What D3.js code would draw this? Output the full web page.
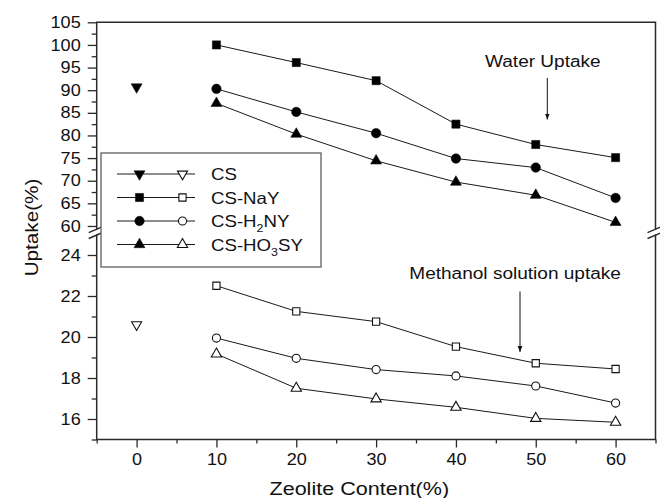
<!DOCTYPE html>
<html>
<head>
<meta charset="utf-8">
<script src="https://cdn.jsdelivr.net/npm/d3@7"></script>
<style>
  html, body { margin: 0; padding: 0; background: #fff; }
  svg { display: block; }
  text { font-family: "Liberation Sans", Arial, sans-serif; fill: #111; }
</style>
</head>
<body>
<svg id="chart" width="660" height="498"></svg>
<script>
// Zeolite content (%) for the composite membranes, and the plain CS membrane at 0 %
const zeoliteContent = [10, 20, 30, 40, 50, 60];
const csContent = [0];

// Water uptake (%)
const waterCS = [90.7];
const waterNaY = [100, 96.1, 92.1, 82.5, 78, 75.1];
const waterH2NY = [90.3, 85.2, 80.5, 74.9, 72.9, 66.2];
const waterHO3SY = [87.1, 80.3, 74.4, 69.7, 66.8, 60.8];

// Methanol solution uptake (%)
const methanolCS = [20.6];
const methanolNaY = [22.5, 21.25, 20.75, 19.53, 18.72, 18.44];
const methanolH2NY = [19.95, 18.96, 18.41, 18.1, 17.61, 16.78];
const methanolHO3SY = [19.17, 17.5, 16.98, 16.57, 16.03, 15.84];

// Axis ticks
const xMajorTicks = [0, 10, 20, 30, 40, 50, 60];
const xMinorTicks = [-5, 5, 15, 25, 35, 45, 55, 65];
const yUpperMajor = [60, 65, 70, 75, 80, 85, 90, 95, 100, 105];
const yUpperMinor = [62.5, 67.5, 72.5, 77.5, 82.5, 87.5, 92.5, 97.5, 102.5];
const yLowerMajor = [16, 18, 20, 22, 24];
const yLowerMinor = [15, 17, 19, 21, 23];

const seriesNames = ["CS", "CS-NaY", "CS-H2NY", "CS-HO3SY"];

const svg = d3.select("#chart");
const SX = 1.13;   // horizontal text stretch

const left = 96.7, right = 655.5;
const x = d3.scaleLinear().domain([-5, 65]).range([left, right]);
const yUp = d3.scaleLinear().domain([59.2, 105]).range([229.6, 22.3]);
const yLo = d3.scaleLinear().domain([15, 25]).range([439.5, 234.5]);

const frameColor = "#2a2a2a";
const lineColor = "#1a1a1a";

// stretch axis labels horizontally around their anchor
function stretchTicks(g, sx) {
  g.selectAll("text").each(function () {
    const t = d3.select(this);
    const xx = +t.attr("x") || 0;
    t.attr("x", xx / sx).attr("transform", `scale(${sx},1)`);
  });
}

function styleAxis(g) {
  g.select(".domain").remove();
  g.selectAll("line").attr("stroke", frameColor).attr("stroke-width", 1.3);
  g.selectAll("text").attr("font-size", 16).attr("fill", "#111");
}

// ---- Y axes: upper (water) and lower (methanol) segments
const gyU = svg.append("g").attr("transform", `translate(${left},0)`)
  .call(d3.axisLeft(yUp).tickValues(yUpperMajor).tickSize(9).tickPadding(7).tickFormat(d3.format("d")));
styleAxis(gyU); stretchTicks(gyU, SX);
const gyUm = svg.append("g").attr("transform", `translate(${left},0)`)
  .call(d3.axisLeft(yUp).tickValues(yUpperMinor).tickSize(5).tickFormat(""));
styleAxis(gyUm);

const gyL = svg.append("g").attr("transform", `translate(${left},0)`)
  .call(d3.axisLeft(yLo).tickValues(yLowerMajor).tickSize(9).tickPadding(7).tickFormat(d3.format("d")));
styleAxis(gyL); stretchTicks(gyL, SX);
const gyLm = svg.append("g").attr("transform", `translate(${left},0)`)
  .call(d3.axisLeft(yLo).tickValues(yLowerMinor).tickSize(5).tickFormat(""));
styleAxis(gyLm);

// ---- X axis
const bottom = yLo(15);
const gx = svg.append("g").attr("transform", `translate(0,${bottom})`)
  .call(d3.axisBottom(x).tickValues(xMajorTicks).tickSize(8).tickPadding(6).tickFormat(d3.format("d")));
styleAxis(gx); stretchTicks(gx, SX);
const gxm = svg.append("g").attr("transform", `translate(0,${bottom})`)
  .call(d3.axisBottom(x).tickValues(xMinorTicks).tickSize(4).tickFormat(""));
styleAxis(gxm);

// ---- Frame: upper box (top, left, right) and lower box (bottom, left, right)
const frame = svg.append("g").attr("fill", "none").attr("stroke", frameColor).attr("stroke-width", 1.5);
const yTop = yUp(105), yUpBot = yUp(59.2), yLoTop = yLo(25);
frame.append("path").attr("d", `M${left},${yUpBot}V${yTop}H${right}V${yUpBot}`);
frame.append("path").attr("d", `M${left},${yLoTop}V${bottom}H${right}V${yLoTop}`);

// axis break marks
const brk = svg.append("g").attr("stroke", frameColor).attr("stroke-width", 1.4);
[left, right].forEach(cx => {
  brk.append("line").attr("x1", cx - 8).attr("y1", yUpBot + 3).attr("x2", cx + 6).attr("y2", yUpBot - 3);
  brk.append("line").attr("x1", cx - 8).attr("y1", yLoTop + 4).attr("x2", cx + 6).attr("y2", yLoTop - 2);
});

// ---- Markers
const symbolTypes = { down: d3.symbolTriangle, square: d3.symbolSquare, circle: d3.symbolCircle, up: d3.symbolTriangle };
const filledSizes = { down: 52, square: 66, circle: 70, up: 52 };
const hollowSizes = { down: 44, square: 52, circle: 52, up: 46 };

function drawMarker(g, kind, filled, px, py) {
  const size = (filled ? filledSizes : hollowSizes)[kind];
  const rot = kind === "down" ? " rotate(180)" : "";
  g.append("path")
    .attr("d", d3.symbol().type(symbolTypes[kind]).size(size)())
    .attr("transform", `translate(${px},${py})${rot}`)
    .attr("fill", filled ? "#000" : "#fff")
    .attr("stroke", "#111")
    .attr("stroke-width", filled ? 0.6 : 1.1);
}

const lineGen = (ys) => d3.line().x(d => x(d[0])).y(d => ys(d[1]));

const series = [
  { kind: "down", water: [csContent, waterCS], meth: [csContent, methanolCS] },
  { kind: "square", water: [zeoliteContent, waterNaY], meth: [zeoliteContent, methanolNaY] },
  { kind: "circle", water: [zeoliteContent, waterH2NY], meth: [zeoliteContent, methanolH2NY] },
  { kind: "up", water: [zeoliteContent, waterHO3SY], meth: [zeoliteContent, methanolHO3SY] }
];

const plot = svg.append("g");
series.forEach(s => {
  const wPts = s.water[0].map((c, i) => [c, s.water[1][i]]);
  const mPts = s.meth[0].map((c, i) => [c, s.meth[1][i]]);
  if (wPts.length > 1) {
    plot.append("path").attr("d", lineGen(yUp)(wPts)).attr("fill", "none")
      .attr("stroke", lineColor).attr("stroke-width", 1);
  }
  if (mPts.length > 1) {
    plot.append("path").attr("d", lineGen(yLo)(mPts)).attr("fill", "none")
      .attr("stroke", lineColor).attr("stroke-width", 1);
  }
  wPts.forEach(p => drawMarker(plot, s.kind, true, x(p[0]), yUp(p[1])));
  mPts.forEach(p => drawMarker(plot, s.kind, false, x(p[0]), yLo(p[1])));
});

// ---- Legend
const leg = svg.append("g");
leg.append("rect").attr("x", 101).attr("y", 153).attr("width", 220).attr("height", 114)
  .attr("fill", "#fff").attr("stroke", "#6a6a6a").attr("stroke-width", 1.4);
const rowY = [174, 197.5, 221, 244.5];

// writes a label, turning a digit that follows "H" or "O" into a subscript
function writeLabel(t, name) {
  const parts = name.match(/^(.*?[HO])(\d)(.*)$/);
  if (!parts) { t.text(name); return; }
  t.append("tspan").text(parts[1]);
  t.append("tspan").text(parts[2]).attr("font-size", 11).attr("dy", 5);
  t.append("tspan").text(parts[3]).attr("dy", -5);
}

seriesNames.forEach((name, i) => {
  const yy = rowY[i];
  leg.append("line").attr("x1", 117).attr("x2", 195).attr("y1", yy).attr("y2", yy)
    .attr("stroke", lineColor).attr("stroke-width", 1);
  drawMarker(leg, series[i].kind, true, 139.5, yy);
  drawMarker(leg, series[i].kind, false, 182.5, yy);
  const t = leg.append("text")
    .attr("transform", `translate(211,${yy + 6}) scale(${SX},1)`)
    .attr("font-size", 16.5);
  writeLabel(t, name);
});

// ---- Annotations with arrows
const defs = svg.append("defs");
defs.append("marker").attr("id", "arrow").attr("viewBox", "0 0 10 10")
  .attr("refX", 10).attr("refY", 5).attr("markerWidth", 6).attr("markerHeight", 6)
  .attr("markerUnits", "userSpaceOnUse").attr("orient", "auto")
  .append("path").attr("d", "M0,1 L10,5 L0,9 Z").attr("fill", "#111");

const SA = 1.19;
svg.append("text").attr("transform", `translate(485,66.7) scale(${SA},1)`)
  .attr("font-size", 16).text("Water Uptake");
svg.append("line").attr("x1", 547.3).attr("x2", 547.3).attr("y1", 78).attr("y2", 119.5)
  .attr("stroke", "#111").attr("stroke-width", 1).attr("marker-end", "url(#arrow)");

svg.append("text").attr("transform", `translate(409.3,279) scale(${SA},1)`)
  .attr("font-size", 16).text("Methanol solution uptake");
svg.append("line").attr("x1", 520).attr("x2", 520).attr("y1", 291.5).attr("y2", 352)
  .attr("stroke", "#111").attr("stroke-width", 1).attr("marker-end", "url(#arrow)");

// ---- Axis titles
svg.append("text").attr("transform", `translate(359.3,495) scale(1.165,1)`)
  .attr("text-anchor", "middle").attr("font-size", 18.5).text("Zeolite Content(%)");
svg.append("text").attr("transform", `translate(38,227.5) rotate(-90) scale(1.15,1)`)
  .attr("text-anchor", "middle").attr("font-size", 18).text("Uptake(%)");
</script>
</body>
</html>
